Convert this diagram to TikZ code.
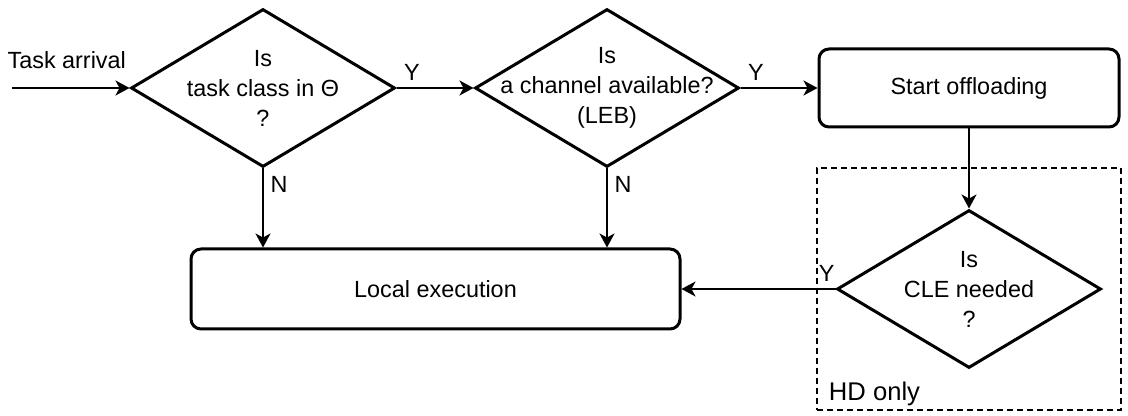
\documentclass[tikz,border=0pt]{standalone}
\usepackage{fontspec}
\setmainfont{Liberation Sans}
\usetikzlibrary{shapes.geometric,arrows.meta}

\begin{document}
\begin{tikzpicture}[node distance=172pt, >={Stealth[length=7pt,width=7.5pt,inset=2pt]},
    font=\fontsize{11.7pt}{15pt}\selectfont,
    line/.style = {draw, line width=1pt},
    decision/.style = {draw, diamond, line width=1.5pt, minimum width=132pt, minimum height=79pt, inner sep=0pt},
    block/.style = {draw, rounded corners=5pt, line width=1.5pt, align=center},
    hdbox/.style = {draw, line width=1.1pt, dash pattern=on 3pt off 2pt, minimum width=152pt, minimum height=121pt}]
    \useasboundingbox (0,0) rectangle (564pt,-208pt);

    \node[decision, label={[align=center]center:{Is\\task class in Θ\\?}}] (d_1) at (131.5pt,-44pt) {};
    \node[decision, label={[align=center]center:{Is\\a channel available?\\(LEB)}}] (d_2) [right of=d_1] {};
    \node[block, minimum width=150pt, minimum height=39pt] (start) [right of=d_2, node distance=181pt] {Start offloading};
    \node[decision, label={[align=center]center:{Is\\CLE needed\\?}}] (d_3) [below of=start, node distance=100.5pt] {};
    \node[block, minimum width=244.5pt, minimum height=40pt] (local) [left of=d_3, node distance=266.75pt] {Local execution};

    % HD only region
    \node[hdbox] (hd) at (d_3) {};
    \node[anchor=south west, font=\fontsize{12.8pt}{15pt}\selectfont, xshift=3pt, yshift=-1pt] (hdtext) at (hd.south west) {HD only};

    \coordinate (arr) at (6pt,-44pt);

    \draw[line,->] (arr) -- node[above=6pt, xshift=-2pt] {Task arrival} (d_1);
    \draw[line,->] (d_1) -- node[pos=0, above right] {Y} (d_2);
    \draw[line,->] (d_2) -- node[pos=0, above right] {Y} (start);
    \draw[line,->] (d_1) -- node[pos=0, below right] {N} (d_1 |- local.north);
    \draw[line,->] (d_2) -- node[pos=0, below right] {N} (d_2 |- local.north);
    \draw[line,->] (start) -- (d_3);
    \draw[line,->] (d_3) -- node[pos=0, above left, inner sep=1.5pt, xshift=1.5pt, yshift=1.5pt] {Y} (d_3 -| local.east);
\end{tikzpicture}
\end{document}
